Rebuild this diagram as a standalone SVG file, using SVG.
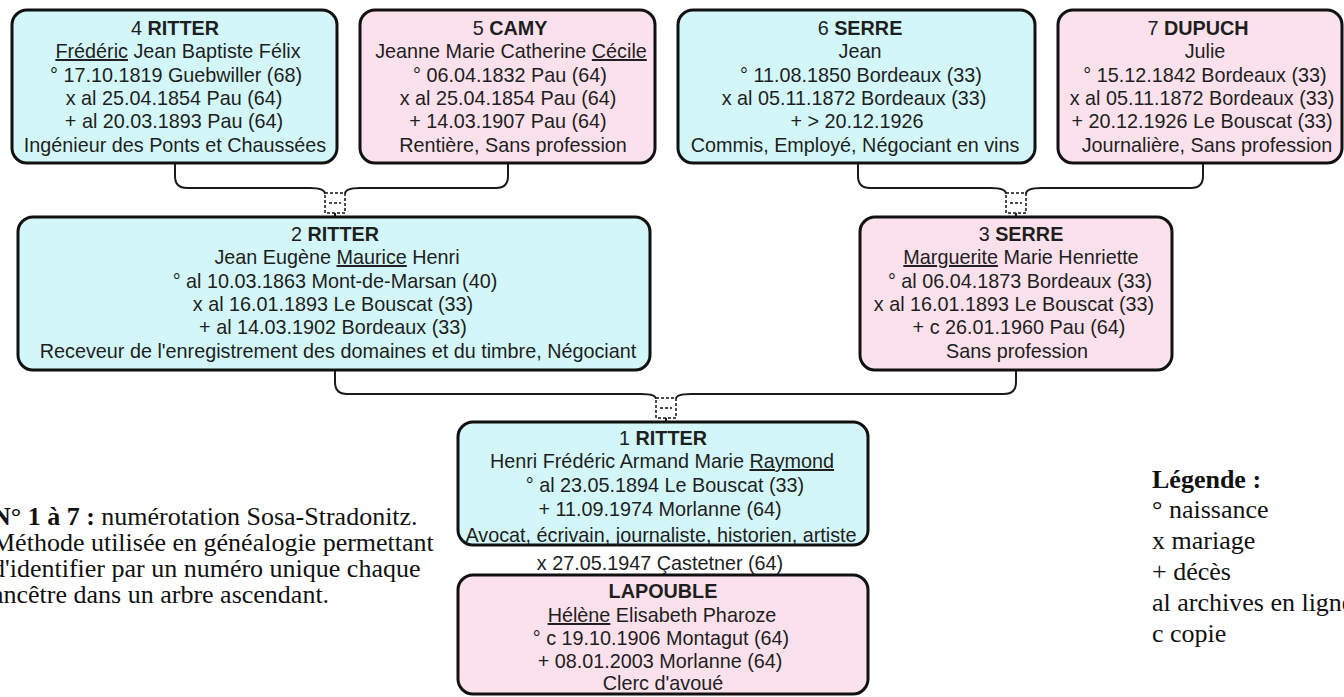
<svg xmlns="http://www.w3.org/2000/svg" width="1344" height="697" viewBox="0 0 1344 697">
<defs>
<style>
.box { stroke: #111; stroke-width: 3; }
.m { fill: #d3f7f9; }
.f { fill: #fbe1ec; }
.t { font-family: "Liberation Sans", Arial, sans-serif; font-size: 19.8px; fill: #1e1e1e; text-anchor: middle; }
.b { font-weight: bold; }
.u { text-decoration: underline; }
.con { fill: none; stroke: #1a1a1a; stroke-width: 2; }
.jn { fill: #fff; stroke: #111; stroke-width: 1.5; stroke-dasharray: 3 2; }
.jd { fill: none; stroke: #111; stroke-width: 1.5; stroke-dasharray: 3 2; }
.note { font-family: "Liberation Serif", "Times New Roman", serif; font-size: 26px; fill: #111; }
</style>
</defs>
<rect width="1344" height="697" fill="#ffffff"/>

<g id="connectors">
  <path class="con" d="M175,163 V176 Q175,188 187,188 H310 C320,188 325,190 325,194"/>
  <path class="con" d="M508,163 V176 Q508,188 496,188 H360 C350,188 345,190 345,194"/>
  <rect class="jn" x="325" y="193" width="20" height="20"/>
  <path class="jd" d="M329,203 H341"/>
  <path class="con" d="M335,213 V217"/>

  <path class="con" d="M858,163 V176 Q858,188 870,188 H991 C1001,188 1006,190 1006,194"/>
  <path class="con" d="M1203,163 V176 Q1203,188 1191,188 H1041 C1031,188 1026,190 1026,194"/>
  <rect class="jn" x="1006" y="193" width="20" height="20"/>
  <path class="jd" d="M1010,203 H1022"/>
  <path class="con" d="M1016,213 V217"/>

  <path class="con" d="M335,370 V382 Q335,394 347,394 H641 C651,394 656,396 656,399"/>
  <path class="con" d="M1016,370 V382 Q1016,394 1004,394 H691 C681,394 676,396 676,399"/>
  <rect class="jn" x="656" y="398" width="20" height="20"/>
  <path class="jd" d="M660,408 H672"/>
  <path class="con" d="M666,418 V422"/>
</g>

<g id="node-4">
  <rect class="box m" x="12" y="10" width="325" height="153" rx="15"/>
  <text class="t" x="175" y="35">4 <tspan class="b">RITTER</tspan></text>
  <text class="t" x="178" y="58"><tspan class="u">Frédéric</tspan> Jean Baptiste Félix</text>
  <text class="t" x="176" y="82">° 17.10.1819 Guebwiller (68)</text>
  <text class="t" x="174" y="105">x al 25.04.1854 Pau (64)</text>
  <text class="t" x="174" y="128">+ al 20.03.1893 Pau (64)</text>
  <text class="t" x="175" y="152">Ingénieur des Ponts et Chaussées</text>
</g>

<g id="node-5">
  <rect class="box f" x="360" y="10" width="295" height="153" rx="15"/>
  <text class="t" x="510" y="35">5 <tspan class="b">CAMY</tspan></text>
  <text class="t" x="511" y="58">Jeanne Marie Catherine <tspan class="u">Cécile</tspan></text>
  <text class="t" x="510" y="82">° 06.04.1832 Pau (64)</text>
  <text class="t" x="508" y="105">x al 25.04.1854 Pau (64)</text>
  <text class="t" x="508" y="128">+ 14.03.1907 Pau (64)</text>
  <text class="t" x="513" y="152">Rentière, Sans profession</text>
</g>

<g id="node-6">
  <rect class="box m" x="678" y="10" width="357" height="153" rx="15"/>
  <text class="t" x="860" y="35">6 <tspan class="b">SERRE</tspan></text>
  <text class="t" x="860" y="58">Jean</text>
  <text class="t" x="861" y="82">° 11.08.1850 Bordeaux (33)</text>
  <text class="t" x="854" y="105">x al 05.11.1872 Bordeaux (33)</text>
  <text class="t" x="857" y="128">+ &gt; 20.12.1926</text>
  <text class="t" x="855" y="152">Commis, Employé, Négociant en vins</text>
</g>

<g id="node-7">
  <rect class="box f" x="1058" y="10" width="284" height="153" rx="15"/>
  <text class="t" x="1198" y="35">7 <tspan class="b">DUPUCH</tspan></text>
  <text class="t" x="1205" y="58">Julie</text>
  <text class="t" x="1205" y="82">° 15.12.1842 Bordeaux (33)</text>
  <text class="t" x="1202" y="105">x al 05.11.1872 Bordeaux (33)</text>
  <text class="t" x="1202" y="128">+ 20.12.1926 Le Bouscat (33)</text>
  <text class="t" x="1207" y="152">Journalière, Sans profession</text>
</g>

<g id="node-2">
  <rect class="box m" x="18" y="217" width="632" height="153" rx="15"/>
  <text class="t" x="335" y="241">2 <tspan class="b">RITTER</tspan></text>
  <text class="t" x="337" y="264">Jean Eugène <tspan class="u">Maurice</tspan> Henri</text>
  <text class="t" x="335" y="288">° al 10.03.1863 Mont-de-Marsan (40)</text>
  <text class="t" x="333" y="311">x al 16.01.1893 Le Bouscat (33)</text>
  <text class="t" x="333" y="334">+ al 14.03.1902 Bordeaux (33)</text>
  <text class="t" x="338" y="358">Receveur de l'enregistrement des domaines et du timbre, Négociant</text>
</g>

<g id="node-3">
  <rect class="box f" x="860" y="217" width="312" height="153" rx="15"/>
  <text class="t" x="1021" y="241">3 <tspan class="b">SERRE</tspan></text>
  <text class="t" x="1021" y="264"><tspan class="u">Marguerite</tspan> Marie Henriette</text>
  <text class="t" x="1020" y="288">° al 06.04.1873 Bordeaux (33)</text>
  <text class="t" x="1014" y="311">x al 16.01.1893 Le Bouscat (33)</text>
  <text class="t" x="1019" y="334">+ c 26.01.1960 Pau (64)</text>
  <text class="t" x="1017" y="358">Sans profession</text>
</g>

<g id="node-1">
  <rect class="box m" x="458" y="422" width="410" height="123" rx="15"/>
  <text class="t" x="663" y="445">1 <tspan class="b">RITTER</tspan></text>
  <text class="t" x="662" y="468">Henri Frédéric Armand Marie <tspan class="u">Raymond</tspan></text>
  <text class="t" x="665" y="492">° al 23.05.1894 Le Bouscat (33)</text>
  <text class="t" x="660" y="516">+ 11.09.1974 Morlanne (64)</text>
  <text class="t" x="661" y="542">Avocat, écrivain, journaliste, historien, artiste</text>
</g>

<g id="marriage-1">
  <text class="t" x="660" y="570">x 27.05.1947 Çastetner (64)</text>
</g>

<g id="node-spouse">
  <rect class="box f" x="458" y="575" width="410" height="119" rx="15"/>
  <text class="t b" x="663" y="598">LAPOUBLE</text>
  <text class="t" x="662" y="622"><tspan class="u">Hélène</tspan> Elisabeth Pharoze</text>
  <text class="t" x="661" y="645">° c 19.10.1906 Montagut (64)</text>
  <text class="t" x="660" y="668">+ 08.01.2003 Morlanne (64)</text>
  <text class="t" x="663" y="690">Clerc d'avoué</text>
</g>

<g id="note">
  <text class="note" x="-8" y="525"><tspan font-weight="bold">N° 1 à 7 :</tspan> numérotation Sosa-Stradonitz.</text>
  <text class="note" x="-8" y="551">Méthode utilisée en généalogie permettant</text>
  <text class="note" x="-8" y="577">d'identifier par un numéro unique chaque</text>
  <text class="note" x="-8" y="603">ancêtre dans un arbre ascendant.</text>
</g>

<g id="legend">
  <text class="note" x="1152" y="488" font-weight="bold">Légende :</text>
  <text class="note" x="1152" y="518">° naissance</text>
  <text class="note" x="1152" y="549">x mariage</text>
  <text class="note" x="1152" y="580">+ décès</text>
  <text class="note" x="1152" y="611">al archives en ligne</text>
  <text class="note" x="1152" y="642">c copie</text>
</g>
</svg>
